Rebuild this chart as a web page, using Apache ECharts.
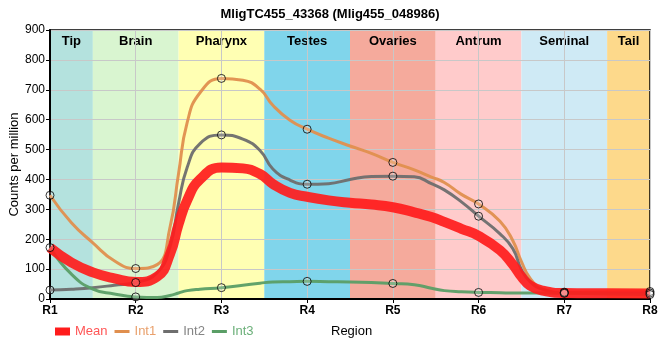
<!DOCTYPE html>
<html><head><meta charset="utf-8">
<script src="https://cdn.jsdelivr.net/npm/echarts@6/dist/echarts.min.js"></script>
<style>html,body{margin:0;padding:0;background:#fff}#c{width:660px;height:360px}</style>
</head><body><div id="c"></div>
<script>
const titleText = 'MligTC455_43368 (Mlig455_048986)';
const xPositions = [1, 1.25, 1.5, 1.75, 2, 2.25, 2.4, 2.5, 2.6, 2.75, 3, 3.25, 3.45, 3.6, 3.8, 4, 4.25, 4.5, 4.75, 5, 5.25, 5.45, 5.6, 5.8, 6, 6.25, 6.4, 6.5, 6.6, 6.75, 7, 7.5, 8];
const meanValues = [172, 122, 89, 69, 57, 75, 150, 250, 330, 400, 440, 437, 418, 385, 355, 342, 330, 322, 316, 307, 290, 274, 258, 235, 211, 163, 115, 75, 45, 28, 20, 19, 18];
const int1Values = [347, 255, 188, 128, 102, 115, 240, 420, 590, 690, 738, 732, 702, 648, 598, 568, 538, 512, 487, 457, 432, 408, 390, 350, 318, 260, 195, 125, 70, 33, 23, 24, 25];
const int2Values = [30, 33, 38, 46, 55, 88, 175, 320, 440, 520, 549, 535, 497, 435, 398, 384, 386, 400, 410, 411, 409, 386, 365, 325, 277, 218, 168, 98, 58, 32, 21, 20, 20];
const int3Values = [172, 83, 33, 17, 7, 5, 12, 20, 28, 33, 38, 46, 53, 57, 58, 59, 58, 57, 55, 52, 48, 36, 28, 24, 22, 21, 20, 20, 20, 20, 19, 17, 15];
const tickLabels = ['R1', 'R2', 'R3', 'R4', 'R5', 'R6', 'R7', 'R8'];
const bandNames = ['Tip', 'Brain', 'Pharynx', 'Testes', 'Ovaries', 'Antrum', 'Seminal', 'Tail'];
const bandStarts = [1, 1.5, 2.5, 3.5, 4.5, 5.5, 6.5, 7.5];
const bandEnds = [1.5, 2.5, 3.5, 4.5, 5.5, 6.5, 7.5, 8];
const bandColors = ['#b4e2de', '#d9f5d0', '#ffffb3', '#80d5eb', '#f5aa9c', '#ffcbcb', '#cfeaf5', '#fdd98b'];
const yMax = 900;

const pairs = vals => xPositions.map((x, i) => [x, vals[i]]);
const atR = vals => xPositions.map((x, i) => [x, vals[i]]).filter(p => Number.isInteger(p[0]));

const chart = echarts.init(document.getElementById('c'), null, {renderer: 'canvas'});
const FONT = 'Liberation Sans, Arial, sans-serif';
const lineSeries = (name, vals, color, width, opacity, z) => ({
  name, type: 'line', data: pairs(vals), smooth: 0.5,
  symbol: 'none', showSymbol: false, z,
  lineStyle: {color, width, opacity}, itemStyle: {color}
});
const markerSeries = (vals) => ({
  type: 'scatter', data: atR(vals), symbol: 'circle', symbolSize: 8, z: 6,
  itemStyle: {color: 'rgba(255,255,255,0.25)', borderColor: '#000', borderWidth: 1},
  silent: true
});
const LINE_ICON = 'path://M0,0h15v3h-15z';

chart.setOption({
  animation: false,
  textStyle: {fontFamily: FONT},
  title: {text: titleText, left: 'center', top: 3,
    textStyle: {fontSize: 13, fontWeight: 'bold', color: '#000', fontFamily: FONT}},
  grid: {left: 50, right: 10, top: 30, bottom: 61, show: true, borderColor: '#000', borderWidth: 1.5, z: 1,
    outerBoundsMode: 'none', containLabel: false},
  legend: {
    left: 50, top: 320, itemWidth: 15, itemHeight: 8, itemGap: 7, symbolKeepAspect: true,
    textStyle: {fontSize: 13, fontFamily: FONT},
    data: [
      {name: 'Mean', icon: 'rect', textStyle: {color: '#ff5555', width: 38}},
      {name: 'Int1', icon: LINE_ICON, textStyle: {color: '#e9a06c', width: 33}},
      {name: 'Int2', icon: LINE_ICON, textStyle: {color: '#858585', width: 33}},
      {name: 'Int3', icon: LINE_ICON, textStyle: {color: '#6cb07a', width: 33}}
    ]
  },
  graphic: [{type: 'text', left: 331, top: 325, style: {text: 'Region', font: '13px ' + FONT, fill: '#000'}}],
  xAxis: {
    type: 'value', min: 1, max: 8, interval: 1, z: 1,
    axisLine: {show: true, lineStyle: {color: '#000', width: 2}},
    axisTick: {show: true, length: 4, lineStyle: {color: '#000'}},
    axisLabel: {formatter: v => tickLabels[v - 1], fontSize: 12, fontWeight: 'bold', color: '#000', margin: 6},
    splitLine: {show: true, lineStyle: {color: '#c8c8c8', width: 1}}
  },
  yAxis: {
    type: 'value', min: 0, max: yMax, interval: 100, z: 1,
    name: 'Counts per million', nameLocation: 'middle', nameGap: 29, nameMoveOverlap: false,
    nameTextStyle: {fontSize: 13, color: '#000', fontFamily: FONT},
    axisLine: {show: true, lineStyle: {color: '#000', width: 2}},
    axisTick: {show: true, length: 4, lineStyle: {color: '#000'}},
    axisLabel: {fontSize: 12, color: '#000', margin: 5},
    splitLine: {show: true, lineStyle: {color: '#c8c8c8', width: 1}}
  },
  series: [
    {
      type: 'custom', z: 0, silent: true, clip: true,
      data: bandNames.map((n, i) => [bandStarts[i], bandEnds[i], i]),
      renderItem: (params, api) => {
        const i = api.value(2);
        const s = api.coord([api.value(0), yMax]);
        const e = api.coord([api.value(1), 0]);
        return {type: 'group', children: [
          {type: 'rect', shape: {x: s[0], y: s[1], width: e[0] - s[0], height: e[1] - s[1]}, style: {fill: bandColors[i]}},
          {type: 'text', z2: 10, style: {text: bandNames[i], x: (s[0] + e[0]) / 2, y: s[1] + 5, align: 'center', verticalAlign: 'top', font: 'bold 13px ' + FONT, fill: '#000'}}
        ]};
      }
    },
    lineSeries('Int1', int1Values, '#e08f4e', 3, 0.95, 3),
    lineSeries('Int2', int2Values, '#6e6e6e', 3, 0.95, 3),
    lineSeries('Int3', int3Values, '#5a9e66', 3, 0.95, 3),
    lineSeries('Mean', meanValues, '#ff1c1c', 10, 0.92, 4),
    markerSeries(int1Values), markerSeries(int2Values), markerSeries(int3Values)
  ]
});
</script></body></html>
